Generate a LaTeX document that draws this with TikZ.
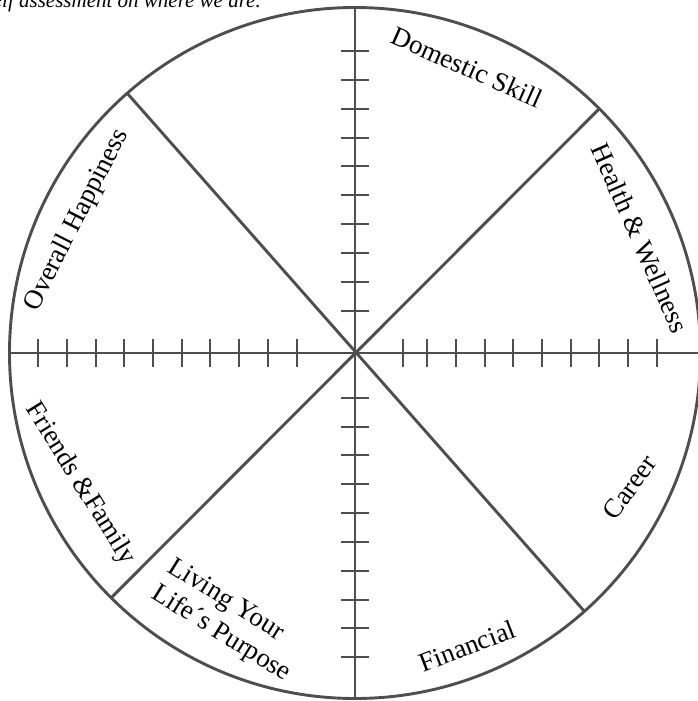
\documentclass[tikz,border=0pt]{standalone}
\usepackage{fontspec}
\setmainfont{Liberation Serif}
\definecolor{wheelgray}{RGB}{78,78,78}
\begin{document}
\begin{tikzpicture}[x=1pt,y=-1pt,
  wheel/.style={draw=wheelgray,line width=2.9pt},
  tickmark/.style={draw=wheelgray,line width=2.7pt},
  lbl/.style={inner sep=0pt,font=\fontsize{27}{31}\selectfont}]
\useasboundingbox (0,0) rectangle (698,701);
\coordinate (O) at (355,353);
\coordinate (T) at (355,8);
\coordinate (B) at (355,699);
\coordinate (L) at (10,353);
\coordinate (R) at (701,353);
\coordinate (UL) at (127,93);
\coordinate (LR) at (585,612);
\coordinate (UR) at (599,109);
\coordinate (LL) at (111,598);
% caption (cut off at top)
\node[anchor=base east,inner sep=0pt,font=\fontsize{21}{24}\selectfont\itshape] (cap) at (261,8) {self assessment on where we are.};
% spokes
\draw[wheel] (T) -- (B);
\draw[wheel] (L) -- (R);
\draw[wheel] (UL) -- (LR);
\draw[wheel] (UR) -- (LL);
% ticks
\foreach \x in {38,67,96,124,153,182,210,239,268,297,403,427,456,485,513,542,571,599,628,657}
  \draw[tickmark] (\x,339) -- (\x,367);
\foreach \y in {51,80,109,138,166,195,224,253,282,311,398,427,455,484,513,542,571,600,628,657}
  \draw[tickmark] (341,\y) -- (369,\y);
% rim
\draw[wheel] (O) circle[radius=345.5pt];
% labels
\node[lbl,rotate=-24] (dom) at (467,67) {Domestic Skill};
\node[lbl,rotate=-66] (hea) at (640,238) {Health \& Wellness};
\node[lbl,rotate=63] (ove) at (77,220) {Overall Happiness};
\node[lbl,rotate=-58] (fri) at (80,484) {Friends \&Family};
\node[lbl,rotate=-32,align=left] (liv) at (229,621) {Living Your\\Life´s Purpose};
\node[lbl,rotate=21] (fin) at (467,646) {Financial};
\node[lbl,rotate=54] (car) at (630,487) {Career};
\end{tikzpicture}
\end{document}
